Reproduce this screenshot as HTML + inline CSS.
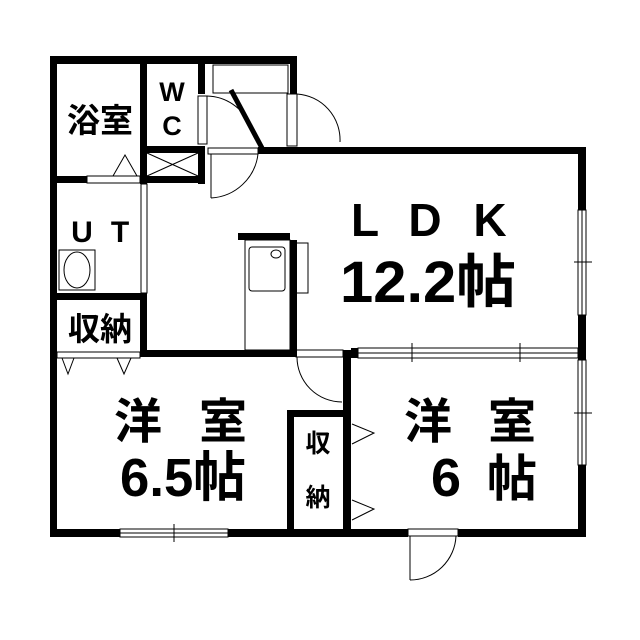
<!DOCTYPE html>
<html><head><meta charset="utf-8"><style>
html,body{margin:0;padding:0;background:#fff}
svg{display:block}
text{font-family:"Liberation Sans","Noto Sans CJK JP",sans-serif;fill:#000;text-anchor:middle;font-weight:bold}
</style></head><body>
<svg width="640" height="640" viewBox="0 0 640 640" xmlns="http://www.w3.org/2000/svg">
<g fill="#000">
<rect x="50" y="56" width="7" height="481"/>
<rect x="50" y="56" width="247" height="8"/>
<rect x="290" y="56" width="7" height="38"/>
<rect x="258" y="147" width="327" height="7"/>
<rect x="578" y="147" width="8" height="63"/>
<rect x="578" y="315" width="8" height="45"/>
<rect x="578" y="465" width="8" height="72"/>
<rect x="50" y="529" width="70" height="8"/>
<rect x="228" y="529" width="180" height="8"/>
<rect x="458" y="529" width="128" height="8"/>
<rect x="140" y="56" width="7" height="128"/>
<rect x="198" y="56" width="7" height="38"/>
<rect x="198" y="146" width="7" height="38"/>
<rect x="140" y="146" width="65" height="7"/>
<rect x="140" y="176" width="65" height="7"/>
<rect x="50" y="176" width="37" height="7"/>
<rect x="50" y="293" width="97" height="7"/>
<rect x="140" y="293" width="7" height="64"/>
<rect x="140" y="350" width="157" height="7"/>
<rect x="238" y="233" width="52" height="7"/>
<rect x="290" y="240" width="7" height="117"/>
<rect x="343" y="350" width="8" height="187"/>
<rect x="287" y="410" width="7" height="127"/>
<rect x="287" y="410" width="64" height="7"/>
<rect x="351" y="348" width="7" height="10"/>
</g>
<g fill="none" stroke="#000" stroke-width="1">
<rect x="87" y="176" width="53" height="7"/>
<polyline points="113,176 125,155 137,176"/>
<line x1="147" y1="153" x2="198" y2="176"/><line x1="147" y1="176" x2="198" y2="153"/>
<rect x="141" y="184" width="6" height="109"/>
<rect x="59" y="250" width="36" height="40"/>
<ellipse cx="77" cy="270" rx="13" ry="18"/>
<rect x="57" y="352" width="83" height="6"/>
<polyline points="62,358 68,374 74,358"/><polyline points="117,358 124,374 131,358"/>
<rect x="198" y="96" width="9" height="48"/>
<path d="M207,96 A48,48 0 0 1 250,125"/>
<rect x="213" y="65" width="75" height="28"/>
<rect x="287" y="94" width="10" height="52"/>
<path d="M297,94 A46,46 0 0 1 340,142"/>
<rect x="208" y="148" width="50" height="6"/>
<path d="M258,154 A50,50 0 0 1 211,198"/>
<line x1="211" y1="154" x2="211" y2="198"/>
<rect x="245" y="240" width="45" height="110"/>
<rect x="290" y="243" width="18" height="50"/>
<rect x="249" y="247" width="36" height="44" rx="3"/>
<ellipse cx="276" cy="254" rx="5" ry="4"/>
<rect x="296" y="350" width="47" height="7"/>
<path d="M297,357 A45,45 0 0 0 342,402"/>
<rect x="358" y="348" width="220" height="10"/>
<line x1="358" y1="353" x2="578" y2="353"/>
<line x1="412" y1="343" x2="412" y2="362"/><line x1="520" y1="343" x2="520" y2="362"/>
<rect x="578" y="210" width="8" height="105"/><line x1="582" y1="210" x2="582" y2="315"/>
<line x1="574" y1="262" x2="592" y2="262"/>
<rect x="578" y="360" width="8" height="105"/><line x1="582" y1="360" x2="582" y2="465"/>
<line x1="574" y1="413" x2="592" y2="413"/>
<rect x="120" y="529" width="108" height="8"/><line x1="120" y1="533" x2="228" y2="533"/>
<line x1="174" y1="524" x2="174" y2="542"/>
<rect x="344" y="421" width="6" height="106"/>
<polyline points="352,424 374,433 352,444"/><polyline points="352,500 374,509 352,520"/>
<rect x="408" y="529" width="50" height="7"/>
<line x1="410" y1="536" x2="410" y2="580"/>
<path d="M456,536 A46,46 0 0 1 410,580"/>
</g>
<line x1="231" y1="90" x2="262" y2="148" stroke="#000" stroke-width="5"/>
<text x="100" y="132" font-size="33">浴室</text>
<text x="172" y="101" font-size="27">W</text>
<text x="172" y="135" font-size="27">C</text>
<text x="82" y="242" font-size="30">U</text>
<text x="120" y="242" font-size="30">T</text>
<text x="100" y="340" font-size="32">収納</text>
<text x="365" y="236" font-size="46">L</text>
<text x="425" y="236" font-size="46">D</text>
<text x="490" y="236" font-size="46">K</text>
<text x="428" y="302" font-size="58" textLength="176" lengthAdjust="spacingAndGlyphs">12.2帖</text>
<text x="138" y="438" font-size="48">洋</text>
<text x="223" y="438" font-size="48">室</text>
<text x="183" y="496" font-size="54" textLength="126" lengthAdjust="spacingAndGlyphs">6.5帖</text>
<text x="428" y="438" font-size="48">洋</text>
<text x="512" y="438" font-size="48">室</text>
<text x="446" y="496" font-size="54">6</text>
<text x="512" y="496" font-size="50">帖</text>
<text x="318" y="452" font-size="25">収</text>
<text x="318" y="506" font-size="25">納</text>
</svg>
</body></html>
